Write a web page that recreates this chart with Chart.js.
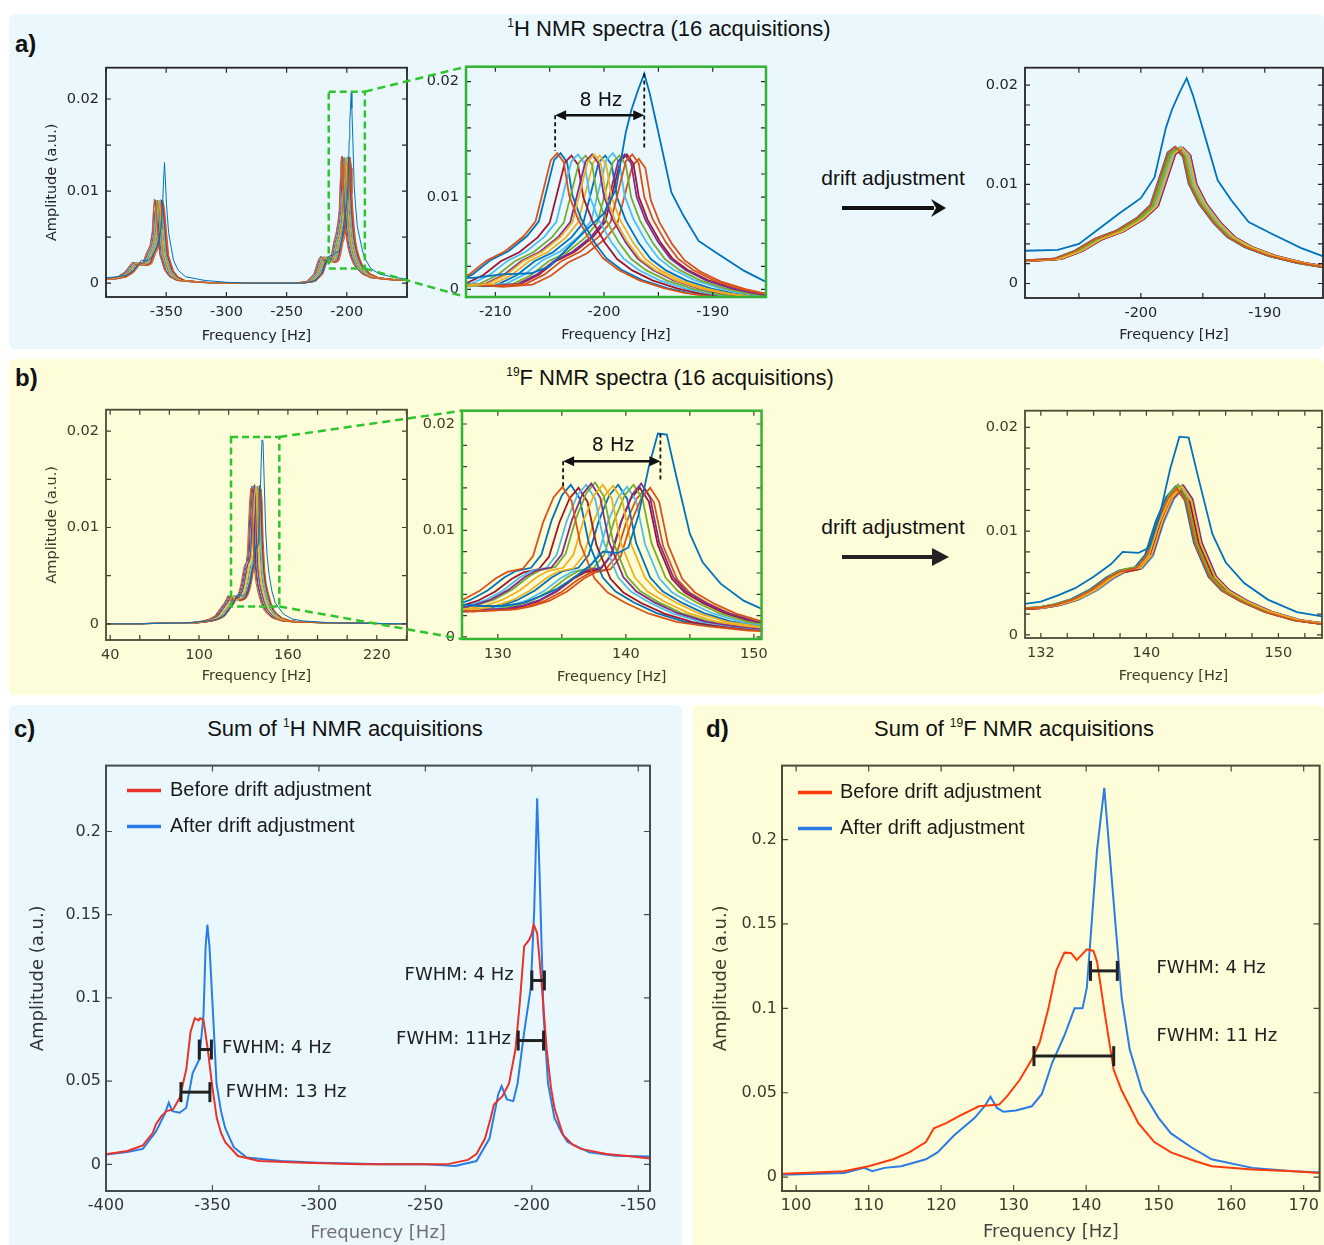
<!DOCTYPE html>
<html>
<head>
<meta charset="utf-8">
<title>NMR drift adjustment</title>
<script src="https://cdn.jsdelivr.net/npm/chart.js@4.4.1/dist/chart.umd.min.js"></script>
<style>
  html, body { margin: 0; padding: 0; }
  body { position: relative; width: 1324px; height: 1245px; overflow: hidden; background: #fff;
         font-family: "Liberation Sans", Arial, sans-serif; color: #111; }
  .panel { position: absolute; border-radius: 6px; }
  .sky { background: #eaf8fd; }
  .sand { background: #fdfdd9; }
  .tag { position: absolute; font-weight: bold; font-size: 24px; transform: translateY(-50%); }
  .head { position: absolute; font-size: 22px; white-space: nowrap; transform: translate(-50%, -50%); }
  .sup { font-size: 12px; position: relative; top: -9px; }
  .chart { position: absolute; }
  #arrows, #overlay { position: absolute; left: 0; top: 0; pointer-events: none; z-index: 10; }
</style>
</head>
<body>
<div class="panel sky" style="left:9px;top:14px;width:1315px;height:335px"></div>
<div class="panel sand" style="left:9px;top:359px;width:1315px;height:336px"></div>
<div class="panel sky" style="left:9px;top:705px;width:673px;height:545px"></div>
<div class="panel sand" style="left:693px;top:705px;width:631px;height:545px"></div>

<div class="tag" style="left:15px;top:44px">a)</div>
<div class="head" style="left:669px;top:29px"><span class="sup">1</span>H NMR spectra (16 acquisitions)</div>
<div class="tag" style="left:15px;top:378px">b)</div>
<div class="head" style="left:670px;top:378px"><span class="sup">19</span>F NMR spectra (16 acquisitions)</div>
<div class="tag" style="left:14px;top:729px">c)</div>
<div class="head" style="left:345px;top:729px">Sum of <span class="sup">1</span>H NMR acquisitions</div>
<div class="tag" style="left:706px;top:729px">d)</div>
<div class="head" style="left:1014px;top:729px">Sum of <span class="sup">19</span>F NMR acquisitions</div>
<div class="head" style="left:893px;top:178px;font-size:21px">drift adjustment</div>
<div class="head" style="left:893px;top:527px;font-size:21px">drift adjustment</div>

<svg id="arrows" width="1324" height="1245">
  <line x1="842" y1="208" x2="934" y2="208" stroke="#111" stroke-width="4"/>
  <polygon points="946,208 931,199 936,208 931,217" fill="#111"/>
  <line x1="842" y1="557" x2="934" y2="557" stroke="#222" stroke-width="4"/>
  <polygon points="949,557 932,548 932,566" fill="#222"/>
</svg>
<canvas id="overlay" width="1324" height="1245"></canvas>

<script>
// MATLAB line colours, cycled over the 16 acquisitions
const acqColors = ['#0072BD', '#D95319', '#EDB120', '#7E2F8E', '#77AC30', '#4DBEEE', '#A2142F'];

// ---- 1H: one acquisition after drift adjustment (Hz, amplitude) ----
const h1Hz = [-400, -390, -383, -377, -373, -370.5, -368.5, -365, -362, -359,
  -356, -354.2, -353.2, -352.4, -351.4, -349.7, -348, -344, -340, -334,
  -318, -300, -280, -260, -245, -236, -226, -220, -216, -214.2,
  -212, -209.4, -206.7, -205, -203.4, -201.7, -200, -198.9, -198, -197.5,
  -196.9, -196.3, -195.8, -195, -193.8, -192.7, -191.3, -189.4, -187.1, -185.2,
  -180, -173, -160, -145];
const h1Typical = [0.0004, 0.0005, 0.0007, 0.0012, 0.0019, 0.0023, 0.0020, 0.0020, 0.0022, 0.0033,
  0.0041, 0.0056, 0.0080, 0.0091, 0.0082, 0.0056, 0.0031, 0.0014, 0.0007, 0.0003,
  0.0001, 0, 0, 0, 0, 0, 0.0002, 0.0010, 0.0026, 0.0029,
  0.0025, 0.0023, 0.0025, 0.0033, 0.0045, 0.0053, 0.0066, 0.0079, 0.0113, 0.0132,
  0.0138, 0.0130, 0.0101, 0.0081, 0.0061, 0.0047, 0.0037, 0.0028, 0.0021, 0.0017,
  0.0010, 0.0006, 0.0004, 0.0003];
const h1Outlier = [0.0006, 0.0007, 0.0009, 0.0014, 0.0020, 0.0025, 0.0024, 0.0025, 0.0028, 0.0036,
  0.0045, 0.0060, 0.0080, 0.0105, 0.0131, 0.0085, 0.0055, 0.0025, 0.0014, 0.0007,
  0.0003, 0.0001, 0, 0, 0, 0, 0.0003, 0.0012, 0.0027, 0.0030,
  0.0030, 0.0033, 0.0034, 0.0040, 0.0055, 0.0071, 0.0086, 0.0107, 0.0156, 0.0175,
  0.0192, 0.0207, 0.0190, 0.0156, 0.0104, 0.0084, 0.0062, 0.0050, 0.0036, 0.0027,
  0.0016, 0.0010, 0.0006, 0.0004];
// per acquisition (index 0 = the tall one): drift before adjustment, offset left after it, peak height
const h1Drift = [0, -7.4, -4.0, -4.2, -4.8, -5.5, -6.1, -7.1, -0.5, -3.5, -1.2, -1.7, -2.3, -1.0, -3.0, 0.1];
const h1Residual = [0, -0.3, 0.2, 0.3, -0.1, 0.1, 0.25, -0.35, 0.15, 0, 0.3, -0.2, 0.1, 0.2, -0.25, -0.1];
const h1PeakHeight = [0.0207, 0.0138, 0.0137, 0.0137, 0.0136, 0.0137, 0.0136, 0.0138, 0.0137, 0.0136,
  0.0137, 0.0136, 0.0138, 0.0137, 0.0136, 0.0133];

// ---- 19F: one acquisition after drift adjustment ----
const f19Hz = [30, 60, 90, 100, 106, 110, 114.5, 118, 121.8, 124.6,
  126, 126.8, 127.7, 128.6, 130.3, 132, 133.3, 134.6, 136, 137.3,
  138.2, 139.4, 140.2, 141, 141.8, 142.5, 143.2, 143.9, 145, 146,
  147.4, 149.2, 151.4, 153.7, 157, 163, 170, 190, 240];
const f19Typical = [0, 0, 0.0001, 0.0001, 0.0002, 0.0003, 0.0005, 0.0008, 0.0016, 0.0022,
  0.0026, 0.0029, 0.0026, 0.0024, 0.0025, 0.0026, 0.0029, 0.0034, 0.0043, 0.0055,
  0.0061, 0.0064, 0.0076, 0.0108, 0.0131, 0.0141, 0.0128, 0.0087, 0.0055, 0.0042,
  0.0032, 0.0022, 0.0014, 0.0010, 0.0006, 0.0003, 0.0002, 0.0001, 0];
const f19Outlier = [0, 0, 0.0001, 0.0002, 0.0003, 0.0004, 0.0006, 0.0010, 0.0018, 0.0025,
  0.0029, 0.0031, 0.0030, 0.0029, 0.0029, 0.0032, 0.0038, 0.0045, 0.0056, 0.0068,
  0.0080, 0.0079, 0.0084, 0.0115, 0.0160, 0.0191, 0.0190, 0.0153, 0.0097, 0.0070,
  0.0050, 0.0034, 0.0022, 0.0017, 0.0010, 0.0005, 0.0003, 0.0001, 0];
const f19Drift = [0, -7.45, -4.3, -5.2, -4.9, -5.6, -6.2, -6.8, -0.6, -3.5, -1.3, -1.9, -2.4, -1.4, -3.1, -1.0];
const f19Residual = [0, -0.2, 0.2, 0.3, -0.1, 0.25, 0.1, -0.3, 0.15, 0, 0.2, -0.15, 0.3, 0.05, -0.2, -0.1];
const f19PeakHeight = [0.0191, 0.0141, 0.0143, 0.0144, 0.0145, 0.0143, 0.0140, 0.0143, 0.0140, 0.0142,
  0.0144, 0.0143, 0.0141, 0.0140, 0.0143, 0.0139];

// ---- sums of the 16 acquisitions ----
const h1SumBeforeHz = [-400, -390, -382.7, -378, -376.6, -374, -371.5, -368.5, -365.4, -362.3,
  -360.3, -358.3, -356.5, -355.8, -354.2, -352.2, -350, -348, -346, -344,
  -338, -328, -307, -280, -260, -240, -230, -226, -222, -219.5,
  -217.8, -213.8, -210.7, -207.7, -205.6, -203.6, -201.2, -200.2, -199.1, -197.5,
  -195.5, -193, -191, -189.4, -185.3, -181, -177, -165, -155, -144.5];
const h1SumBefore = [0.0060, 0.0080, 0.0114, 0.0190, 0.0240, 0.0290, 0.0320, 0.0330, 0.0400, 0.0570,
  0.0795, 0.0878, 0.0865, 0.0878, 0.0868, 0.0690, 0.0460, 0.0280, 0.0190, 0.0134,
  0.0050, 0.0020, 0.0010, 0, 0, 0, 0.0027, 0.0062, 0.0155, 0.0270,
  0.0360, 0.0410, 0.0486, 0.0690, 0.0980, 0.1310, 0.1350, 0.1380, 0.1440, 0.1390,
  0.1100, 0.0690, 0.0460, 0.0340, 0.0176, 0.0120, 0.0093, 0.0062, 0.0050, 0.0035];
const h1SumAfterHz = [-400, -390, -382.7, -376.6, -372.5, -370.5, -368.9, -365.4, -362.3, -359.3,
  -356.2, -354.2, -353.2, -352.4, -351.4, -349.7, -348.1, -346, -344, -340,
  -333.9, -317.6, -300, -270, -250, -236, -226, -219.9, -215.8, -214.2,
  -211.7, -208.7, -206.7, -203.6, -200.5, -198.9, -197.5, -196.3, -194.5, -192.4,
  -189.4, -186, -183.2, -173, -160.8, -144.5];
const h1SumAfter = [0.0060, 0.0075, 0.0093, 0.0196, 0.0300, 0.0370, 0.0320, 0.0310, 0.0340, 0.0548,
  0.0630, 0.0900, 0.1310, 0.1440, 0.1310, 0.0900, 0.0486, 0.0320, 0.0217, 0.0103,
  0.0041, 0.0020, 0.0010, 0, 0, -0.0010, 0.0020, 0.0155, 0.0420, 0.0470,
  0.0390, 0.0380, 0.0486, 0.0795, 0.1060, 0.1520, 0.2200, 0.1720, 0.0900, 0.0486,
  0.0280, 0.0190, 0.0134, 0.0072, 0.0052, 0.0048];
const f19SumBeforeHz = [98, 101, 106.6, 110, 113.4, 115.6, 117.9, 119, 120.7, 122.4,
  125.2, 128, 129.1, 130.8, 132.5, 133.6, 134.8, 135.9, 137, 137.9,
  138.7, 140.1, 141, 141.5, 142.6, 143.8, 144.9, 147.2, 149.4, 151.7,
  155, 157.3, 162.9, 168.6, 172.4];
const f19SumBefore = [0.0020, 0.0024, 0.0035, 0.0065, 0.0106, 0.0147, 0.0208, 0.0290, 0.0320, 0.0360,
  0.0420, 0.0430, 0.0480, 0.0574, 0.0697, 0.0800, 0.1000, 0.1226, 0.1330, 0.1328,
  0.1287, 0.1350, 0.1340, 0.1277, 0.0960, 0.0635, 0.0513, 0.0320, 0.0208, 0.0147,
  0.0096, 0.0065, 0.0045, 0.0035, 0.0024];
const f19SumAfterHz = [98, 106.6, 109.4, 110.5, 112.2, 114.5, 117.9, 119.5, 121.8, 124.6,
  126, 126.8, 127.7, 128.6, 130.3, 132.5, 133.9, 135.3, 137, 138.4,
  139.5, 140.1, 140.7, 141.5, 142.5, 143.2, 144.1, 144.9, 146, 147.7,
  150, 151.7, 154.5, 157.3, 162.9, 168.6, 172.4];
const f19SumAfter = [0.0014, 0.0024, 0.0055, 0.0035, 0.0055, 0.0065, 0.0106, 0.0147, 0.0248, 0.0350,
  0.0420, 0.0477, 0.0410, 0.0387, 0.0395, 0.0420, 0.0493, 0.0676, 0.0839, 0.1000,
  0.1000, 0.1124, 0.1470, 0.1939, 0.2306, 0.1939, 0.1470, 0.1063, 0.0758, 0.0513,
  0.0350, 0.0259, 0.0177, 0.0106, 0.0055, 0.0035, 0.0028];

// ---- annotations, in data units ----
const h1ZoomBox = { x1: -215, x2: -185, y1: 0.0016, y2: 0.0208 };
const f19ZoomBox = { x1: 121.6, x2: 154.2, y1: 0.0018, y2: 0.0194 };
const h1Span = { x1: -204.5, x2: -196.3, y: 0.0171, leftEnd: 0.0140, rightTop: 0.0207, rightEnd: 0.0142, tx: -200.3, ty: 0.0183 };
const f19Span = { x1: 135.1, x2: 142.7, y: 0.0165, leftEnd: 0.0141, rightTop: 0.0191, rightEnd: 0.0146, tx: 139.0, ty: 0.0179 };
const h1Fwhm = [
  { x1: -356.2, x2: -350.5, y: 0.069, text: 'FWHM: 4 Hz', tx: -345.5, ty: 0.0700, align: 'left' },
  { x1: -364.8, x2: -351.2, y: 0.0434, text: 'FWHM: 13 Hz', tx: -343.7, ty: 0.0434, align: 'left' },
  { x1: -200, x2: -194.1, y: 0.1105, text: 'FWHM: 4 Hz', tx: -208.5, ty: 0.1135, align: 'right' },
  { x1: -206.4, x2: -194.5, y: 0.0744, text: 'FWHM: 11Hz', tx: -209.8, ty: 0.0750, align: 'right' }
];
const f19Fwhm = [
  { x1: 140.6, x2: 144.3, y: 0.1222, text: 'FWHM: 4 Hz', tx: 149.7, ty: 0.1240, align: 'left' },
  { x1: 132.8, x2: 143.8, y: 0.0717, text: 'FWHM: 11 Hz', tx: 149.7, ty: 0.0832, align: 'left' }
];

const fam = '"DejaVu Sans", Verdana, sans-serif';
const near = (v, t) => Math.abs(v - t) < 1e-7;
const fmt = v => String(Math.round(v * 1000) / 1000);

function points(hz, amp) {
  return hz.map((f, k) => ({ x: f, y: amp[k] }));
}

// one acquisition: aligned profile moved by its drift and scaled to its own peak height
function acquisition(hz, profile, shift, scale) {
  return hz.map((f, k) => ({ x: f + shift, y: profile[k] * scale }));
}

function acquisitionSets(hz, typical, outlier, shifts, heights, width) {
  const typPeak = Math.max(...typical);
  return shifts.map((s, i) => ({
    data: i === 0 ? acquisition(hz, outlier, s, 1) : acquisition(hz, typical, s, heights[i] / typPeak),
    borderColor: acqColors[i % acqColors.length],
    borderWidth: width
  }));
}

function line(ctx, x1, y1, x2, y2) {
  ctx.beginPath(); ctx.moveTo(x1, y1); ctx.lineTo(x2, y2); ctx.stroke();
}

function marks(cfg) {
  return {
    id: 'marks',
    afterDatasetsDraw(chart) {
      const { ctx, chartArea: a, scales: { x, y } } = chart;
      const px = v => x.getPixelForValue(v);
      const py = v => y.getPixelForValue(v);
      ctx.save();

      // ticks pointing inwards on all four sides
      ctx.strokeStyle = cfg.tickColor;
      ctx.lineWidth = 1.2;
      ctx.beginPath();
      x.ticks.forEach(t => {
        const p = px(t.value);
        ctx.moveTo(p, a.bottom); ctx.lineTo(p, a.bottom - cfg.tickLen);
        ctx.moveTo(p, a.top); ctx.lineTo(p, a.top + cfg.tickLen);
      });
      y.ticks.forEach(t => {
        const p = py(t.value);
        ctx.moveTo(a.left, p); ctx.lineTo(a.left + cfg.tickLen, p);
        ctx.moveTo(a.right, p); ctx.lineTo(a.right - cfg.tickLen, p);
      });
      ctx.stroke();
      ctx.strokeStyle = cfg.frameColor;
      ctx.lineWidth = cfg.frameWidth;
      ctx.strokeRect(a.left, a.top, a.right - a.left, a.bottom - a.top);

      if (cfg.zoomBox) {
        const b = cfg.zoomBox;
        ctx.strokeStyle = '#2ec42e';
        ctx.lineWidth = 2.5;
        ctx.setLineDash([7, 4]);
        ctx.strokeRect(px(b.x1), py(b.y2), px(b.x2) - px(b.x1), py(b.y1) - py(b.y2));
        ctx.setLineDash([]);
      }

      if (cfg.span) {
        const s = cfg.span;
        ctx.strokeStyle = '#111';
        ctx.fillStyle = '#111';
        ctx.lineWidth = 1.8;
        ctx.setLineDash([4, 3]);
        line(ctx, px(s.x1), py(s.y), px(s.x1), py(s.leftEnd));
        line(ctx, px(s.x2), py(s.rightTop), px(s.x2), py(s.rightEnd));
        ctx.setLineDash([]);
        ctx.lineWidth = 2.5;
        const xa = px(s.x1), xb = px(s.x2), ya = py(s.y);
        line(ctx, xa + 6, ya, xb - 6, ya);
        ctx.beginPath();
        ctx.moveTo(xa, ya); ctx.lineTo(xa + 11, ya - 5); ctx.lineTo(xa + 11, ya + 5); ctx.closePath();
        ctx.moveTo(xb, ya); ctx.lineTo(xb - 11, ya - 5); ctx.lineTo(xb - 11, ya + 5); ctx.closePath();
        ctx.fill();
        ctx.font = '19px ' + fam;
        ctx.textAlign = 'center';
        ctx.textBaseline = 'middle';
        ctx.fillText('8 Hz', px(s.tx), py(s.ty));
      }

      if (cfg.fwhm) {
        ctx.strokeStyle = '#222';
        ctx.fillStyle = '#222';
        ctx.lineWidth = 3;
        ctx.font = '18px ' + fam;
        ctx.textBaseline = 'middle';
        cfg.fwhm.forEach(f => {
          const xa = px(f.x1), xb = px(f.x2), yy = py(f.y);
          line(ctx, xa, yy, xb, yy);
          line(ctx, xa, yy - 10, xa, yy + 10);
          line(ctx, xb, yy - 10, xb, yy + 10);
          ctx.textAlign = f.align;
          ctx.fillText(f.text, px(f.tx), py(f.ty));
        });
      }

      if (cfg.legend) {
        const L = cfg.legend;
        ctx.font = '20px "Liberation Sans", Arial, sans-serif';
        ctx.textAlign = 'left';
        ctx.textBaseline = 'middle';
        chart.data.datasets.forEach((d, i) => {
          const yy = a.top + L.dy + i * L.gap;
          ctx.strokeStyle = d.borderColor;
          ctx.lineWidth = 3.5;
          line(ctx, a.left + L.dx, yy, a.left + L.dx + 34, yy);
          ctx.fillStyle = '#1a1a1a';
          ctx.fillText(d.label, a.left + L.textDx, yy);
        });
      }
      ctx.restore();
    }
  };
}

function makeChart(c) {
  const [l, t, r, b] = c.box;
  const w = r - l + c.padL + c.padR;
  const h = b - t + c.padT + c.padB;
  const holder = document.createElement('div');
  holder.className = 'chart';
  holder.style.left = (l - c.padL) + 'px';
  holder.style.top = (t - c.padT) + 'px';
  holder.style.width = w + 'px';
  holder.style.height = h + 'px';
  const cv = document.createElement('canvas');
  cv.width = w; cv.height = h;
  cv.style.width = w + 'px'; cv.style.height = h + 'px';
  holder.appendChild(cv);
  document.body.insertBefore(holder, document.getElementById('arrows'));

  const tickFont = { family: fam, size: c.tickSize };
  const titleFont = { family: fam, size: c.titleSize };
  const lh = c.titleSize * 1.2;
  return new Chart(cv, {
    type: 'line',
    data: { datasets: c.datasets },
    options: {
      responsive: false,
      animation: false,
      events: [],
      layout: { padding: { left: 0, top: c.padT, right: c.padR, bottom: 0 } },
      elements: { point: { radius: 0 }, line: { tension: 0, fill: false } },
      plugins: { legend: { display: false }, tooltip: { enabled: false } },
      scales: {
        x: {
          type: 'linear', min: c.x[0], max: c.x[1],
          afterFit: s => { s.height = c.padB; },
          grid: { display: false, drawTicks: false },
          border: { display: false },
          ticks: {
            stepSize: c.x[2], includeBounds: false, autoSkip: false, maxTicksLimit: 200,
            maxRotation: 0, minRotation: 0, padding: c.tickPad, font: tickFont, color: c.tickColor,
            callback: v => c.xLabel(v)
          },
          title: {
            display: true, text: 'Frequency [Hz]', font: titleFont, color: c.xTitleColor || c.tickColor,
            padding: { top: 0, bottom: c.padB - c.xTitleDy - lh / 2 }
          }
        },
        y: {
          type: 'linear', min: c.y[0], max: c.y[1],
          afterFit: s => { s.width = c.padL; },
          grid: { display: false, drawTicks: false },
          border: { display: false },
          ticks: {
            stepSize: c.y[2], includeBounds: false, autoSkip: false, maxTicksLimit: 200,
            padding: c.tickPad, font: tickFont, color: c.tickColor,
            callback: v => c.yLabel(v)
          },
          title: {
            display: !!c.yTitleX, text: 'Amplitude (a.u.)', font: titleFont, color: c.tickColor,
            padding: { top: c.yTitleX ? c.yTitleX - (l - c.padL) - lh / 2 : 0, bottom: 0 }
          }
        }
      }
    },
    plugins: [marks(c.marks)]
  });
}

const yMain = v => (near(v, 0) || near(v, 0.01) || near(v, 0.02)) ? fmt(v) : '';
const tens = v => Math.abs(v / 10 - Math.round(v / 10)) < 1e-6 ? String(Math.round(v)) : '';
const inkA = '#262626', inkB = '#3b3b2b';
const greenFrame = '#32b432';

const small = { tickSize: 14.5, titleSize: 14.5, tickPad: 7, padT: 8 };

const a1 = makeChart(Object.assign({}, small, {
  box: [106, 60, 407, 297], padL: 68, padR: 12, padB: 52, xTitleDy: 39.7, yTitleX: 52,
  x: [-400, -150, 50], y: [-0.0015, 0.0234, 0.005],
  xLabel: v => (v > -390 && v < -160) ? fmt(v) : '', yLabel: yMain, tickColor: inkA,
  datasets: acquisitionSets(h1Hz, h1Typical, h1Outlier, h1Drift, h1PeakHeight, 1),
  marks: { tickColor: inkA, tickLen: 5, frameColor: inkA, frameWidth: 1.8, zoomBox: h1ZoomBox }
}));
const a2 = makeChart(Object.assign({}, small, {
  box: [466, 59, 766, 297], padL: 45, padR: 12, padB: 50, xTitleDy: 38,
  x: [-212.7, -185.1, 5], y: [0.00134, 0.0213, 0.002],
  xLabel: tens, yLabel: v => near(v, 0.02) ? '0.02' : near(v, 0.01) ? '0.01' : near(v, 0.002) ? '0' : '',
  tickColor: inkA,
  datasets: acquisitionSets(h1Hz, h1Typical, h1Outlier, h1Drift, h1PeakHeight, 1.8),
  marks: { tickColor: inkA, tickLen: 5, frameColor: greenFrame, frameWidth: 2.5, span: h1Span }
}));
const a3 = makeChart(Object.assign({}, small, {
  box: [1025, 60, 1323, 298], padL: 45, padR: 1, padB: 50, xTitleDy: 37,
  x: [-209.35, -185.3, 5], y: [-0.00146, 0.02176, 0.002],
  xLabel: tens, yLabel: yMain, tickColor: inkA,
  datasets: acquisitionSets(h1Hz, h1Typical, h1Outlier, h1Residual, h1PeakHeight, 1.8),
  marks: { tickColor: inkA, tickLen: 5, frameColor: inkA, frameWidth: 1.8 }
}));
const b1 = makeChart(Object.assign({}, small, {
  box: [106, 402, 407, 640], padL: 68, padR: 12, padB: 50, xTitleDy: 36.7, yTitleX: 52,
  x: [37.2, 240.4, 20], y: [-0.00168, 0.02223, 0.005],
  xLabel: v => Math.abs((v - 40) % 60) < 1e-6 ? String(v) : '', yLabel: yMain, tickColor: inkB,
  datasets: acquisitionSets(f19Hz, f19Typical, f19Outlier, f19Drift, f19PeakHeight, 1),
  marks: { tickColor: inkB, tickLen: 5, frameColor: '#4a4a38', frameWidth: 1.8, zoomBox: f19ZoomBox }
}));
const b2 = makeChart(Object.assign({}, small, {
  box: [462, 403, 763, 639], padL: 45, padR: 12, padB: 50, xTitleDy: 38,
  x: [127.2, 150.6, 5], y: [-0.0002, 0.02125, 0.002],
  xLabel: tens, yLabel: yMain, tickColor: inkB,
  datasets: acquisitionSets(f19Hz, f19Typical, f19Outlier, f19Drift, f19PeakHeight, 1.8),
  marks: { tickColor: inkB, tickLen: 5, frameColor: greenFrame, frameWidth: 2.5, span: f19Span }
}));
const b3 = makeChart(Object.assign({}, small, {
  box: [1025, 403, 1322, 638], padL: 45, padR: 2, padB: 50, xTitleDy: 38.5,
  x: [130.8, 153.3, 2], y: [-0.0003, 0.0216, 0.002],
  xLabel: v => [132, 140, 150].some(t => near(v, t)) ? String(Math.round(v)) : '', yLabel: yMain, tickColor: inkB,
  datasets: acquisitionSets(f19Hz, f19Typical, f19Outlier, f19Residual, f19PeakHeight, 1.8),
  marks: { tickColor: inkB, tickLen: 5, frameColor: '#4a4a38', frameWidth: 1.8 }
}));

const big = { tickSize: 16, titleSize: 18, tickPad: 5, padT: 10, padB: 54 };
const c = makeChart(Object.assign({}, big, {
  box: [106, 761, 650, 1191], padL: 86, padR: 14, xTitleDy: 42.5, yTitleX: 38,
  x: [-400, -144.5, 50], y: [-0.016, 0.2396, 0.05],
  xLabel: v => fmt(v), yLabel: v => fmt(v), tickColor: '#333', xTitleColor: '#707070',
  datasets: [
    { label: 'Before drift adjustment', data: points(h1SumBeforeHz, h1SumBefore), borderColor: '#e8322b', borderWidth: 2 },
    { label: 'After drift adjustment', data: points(h1SumAfterHz, h1SumAfter), borderColor: '#2a7de6', borderWidth: 2 }
  ],
  marks: { tickColor: '#454b52', tickLen: 6, frameColor: '#454b52', frameWidth: 2, fwhm: h1Fwhm,
           legend: { dx: 21, dy: 25, gap: 36, textDx: 64 } }
}));
const d = makeChart(Object.assign({}, big, {
  box: [782, 761, 1322, 1191], padL: 79, padR: 2, xTitleDy: 41, yTitleX: 721,
  x: [98.05, 172.2, 10], y: [-0.0082, 0.2438, 0.05],
  xLabel: v => fmt(v), yLabel: v => fmt(v), tickColor: inkB, xTitleColor: '#444',
  datasets: [
    { label: 'Before drift adjustment', data: points(f19SumBeforeHz, f19SumBefore), borderColor: '#ff3b0a', borderWidth: 2 },
    { label: 'After drift adjustment', data: points(f19SumAfterHz, f19SumAfter), borderColor: '#2a7be4', borderWidth: 2 }
  ],
  marks: { tickColor: '#4a4a38', tickLen: 6, frameColor: '#4a4a38', frameWidth: 2, fwhm: f19Fwhm,
           legend: { dx: 16, dy: 27, gap: 36, textDx: 58 } }
}));

// dashed green lines from each zoom box to the enlarged plot
function pageXY(chart, xv, yv) {
  const r = chart.canvas.getBoundingClientRect();
  return [r.left + chart.scales.x.getPixelForValue(xv), r.top + chart.scales.y.getPixelForValue(yv)];
}
function pageCorner(chart, edge) {
  const r = chart.canvas.getBoundingClientRect();
  return [r.left + chart.chartArea.left, r.top + chart.chartArea[edge]];
}
const ov = document.getElementById('overlay').getContext('2d');
ov.strokeStyle = '#2ec42e';
ov.lineWidth = 2.5;
ov.setLineDash([8, 5]);
[[a1, h1ZoomBox, a2], [b1, f19ZoomBox, b2]].forEach(([from, box, to]) => {
  const p1 = pageXY(from, box.x2, box.y2), q1 = pageCorner(to, 'top');
  const p2 = pageXY(from, box.x2, box.y1), q2 = pageCorner(to, 'bottom');
  line(ov, p1[0], p1[1], q1[0], q1[1]);
  line(ov, p2[0], p2[1], q2[0], q2[1]);
});
</script>
</body>
</html>
